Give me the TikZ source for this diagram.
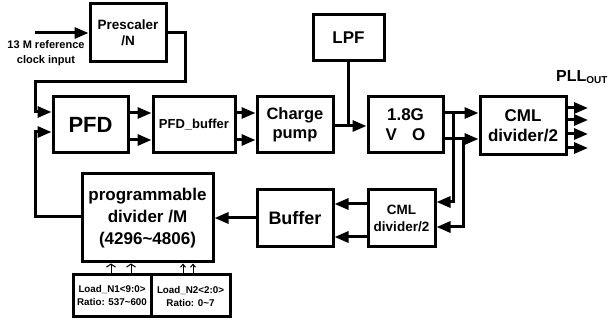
\documentclass[tikz,border=0pt]{standalone}
\usepackage{fontspec}
\setmainfont{Liberation Sans}
\usetikzlibrary{arrows.meta}
\begin{document}
\begin{tikzpicture}[x=1pt,y=-1pt,
  blk/.style={draw,line width=3pt,inner sep=0pt,align=center,font=\bfseries},
  wire/.style={line width=3pt},
  arr/.style={wire,-{Triangle[length=14pt,width=11pt]}},
  thin arr/.style={line width=1pt,-{Straight Barb[length=3pt,width=9pt]}}]
\useasboundingbox (0,0) rectangle (611,320);
\node[blk,minimum width=76pt,minimum height=58pt,font=\bfseries\fontsize{13.5}{16}\selectfont] (pre) at (128,33) {Prescaler\\/N};
\node[blk,minimum width=75pt,minimum height=56pt,font=\bfseries\fontsize{22}{24}\selectfont] (pfd) at (90.5,125) {PFD};
\node[blk,minimum width=82pt,minimum height=56pt,font=\bfseries\fontsize{13}{15}\selectfont] (pfdb) at (194,125) {PFD\_buffer};
\node[blk,minimum width=76pt,minimum height=56pt,font=\bfseries\fontsize{16.5}{19}\selectfont] (cp) at (295,125) {Charge\\pump};
\node[blk,minimum width=71pt,minimum height=46pt,font=\bfseries\fontsize{17}{19}\selectfont] (lpf) at (348.5,38) {LPF};
\node[blk,minimum width=75pt,minimum height=56pt,font=\bfseries\fontsize{17}{20}\selectfont] (vco) at (405.5,125) {1.8G\\V\hspace{0.9em}O};
\node[blk,minimum width=86pt,minimum height=58pt,font=\bfseries\fontsize{17}{20}\selectfont] (cml1) at (523,126) {CML\\divider/2};
\node[blk,minimum width=67pt,minimum height=57pt,font=\bfseries\fontsize{13.5}{17}\selectfont] (cml2) at (401.5,218.5) {CML\\divider/2};
\node[blk,minimum width=76pt,minimum height=57pt,font=\bfseries\fontsize{18}{20}\selectfont] (buf) at (295,218.5) {Buffer};
\node[blk,minimum width=131pt,minimum height=88pt,font=\bfseries\fontsize{17}{22}\selectfont] (prog) at (147.5,218) {programmable\\divider /M\\(4296\textasciitilde 4806)};
\node[blk,minimum width=78pt,minimum height=42pt,font=\bfseries\fontsize{9.8}{13}\selectfont] (ld1) at (112,296) {Load\_N1<9:0>\\Ratio: 537\textasciitilde 600};
\node[blk,minimum width=79pt,minimum height=42pt,font=\bfseries\fontsize{9.8}{13}\selectfont] (ld2) at (190.5,296) {Load\_N2<2:0>\\Ratio: 0\textasciitilde 7};
\node[font=\bfseries\fontsize{11}{15}\selectfont,align=center] (inlbl) at (46,53) {13 M reference\\clock input};
\node[font=\bfseries\fontsize{16}{18}\selectfont,anchor=west,inner sep=0pt] (pllout) at (556,77) {PLL\textsubscript{\fontsize{10}{10}\selectfont OUT}};
% input
\coordinate (inS) at (35,33);
\draw[arr] (inS) -- (pre.west |- inS);
% prescaler to PFD
\coordinate (p1) at (185,82);
\coordinate (p2) at (35,82);
\draw[arr] (pre.east |- 0,33) -| (p1) -- (p2) |- (pfd.west |- 0,112);
% feedback
\coordinate (f1) at (35,217);
\draw[arr] (prog.west |- f1) -- (f1) |- (pfd.west |- 0,132);
% PFD -> buffer -> CP
\draw[arr] (pfd.east |- 0,113) -- (pfdb.west |- 0,113);
\draw[arr] (pfd.east |- 0,140) -- (pfdb.west |- 0,140);
\draw[arr] (pfdb.east |- 0,113) -- (cp.west |- 0,113);
\draw[arr] (pfdb.east |- 0,140) -- (cp.west |- 0,140);
% CP -> VCO, LPF
\coordinate (j) at (348.5,126);
\draw[arr] (cp.east |- j) -- (vco.west |- j);
\draw[wire] (lpf.south) -- (j);
% VCO outputs
\coordinate (b1) at (453,113);
\coordinate (b2) at (463,139);
\draw[arr] (vco.east |- b1) -- (cml1.west |- b1);
\draw[arr] (vco.east |- b2) -- (cml1.west |- b2);
\draw[arr] (b1) |- (cml2.east |- 0,202);
\draw[arr] (b2) |- (cml2.east |- 0,227);
% CML1 outputs
\foreach \yy/\nm in {108/o1,120/o2,134/o3,148/o4}{
  \coordinate (\nm) at (588,\yy);
  \draw[arr] (cml1.east |- \nm) -- (\nm);
}
% CML2 -> Buffer -> prog
\draw[arr] (cml2.west |- 0,204) -- (buf.east |- 0,204);
\draw[arr] (cml2.west |- 0,237) -- (buf.east |- 0,237);
\draw[arr] (buf.west |- 0,218) -- (prog.east |- 0,218);
% load arrows
\foreach \xx in {111,131}{ \draw[thin arr] (\xx,275) -- (\xx,263.5); }
\foreach \xx in {183,193}{ \draw[line width=1pt,-{Straight Barb[length=3pt,width=5pt]}] (\xx,275) -- (\xx,263.5); }
\end{tikzpicture}
\end{document}
